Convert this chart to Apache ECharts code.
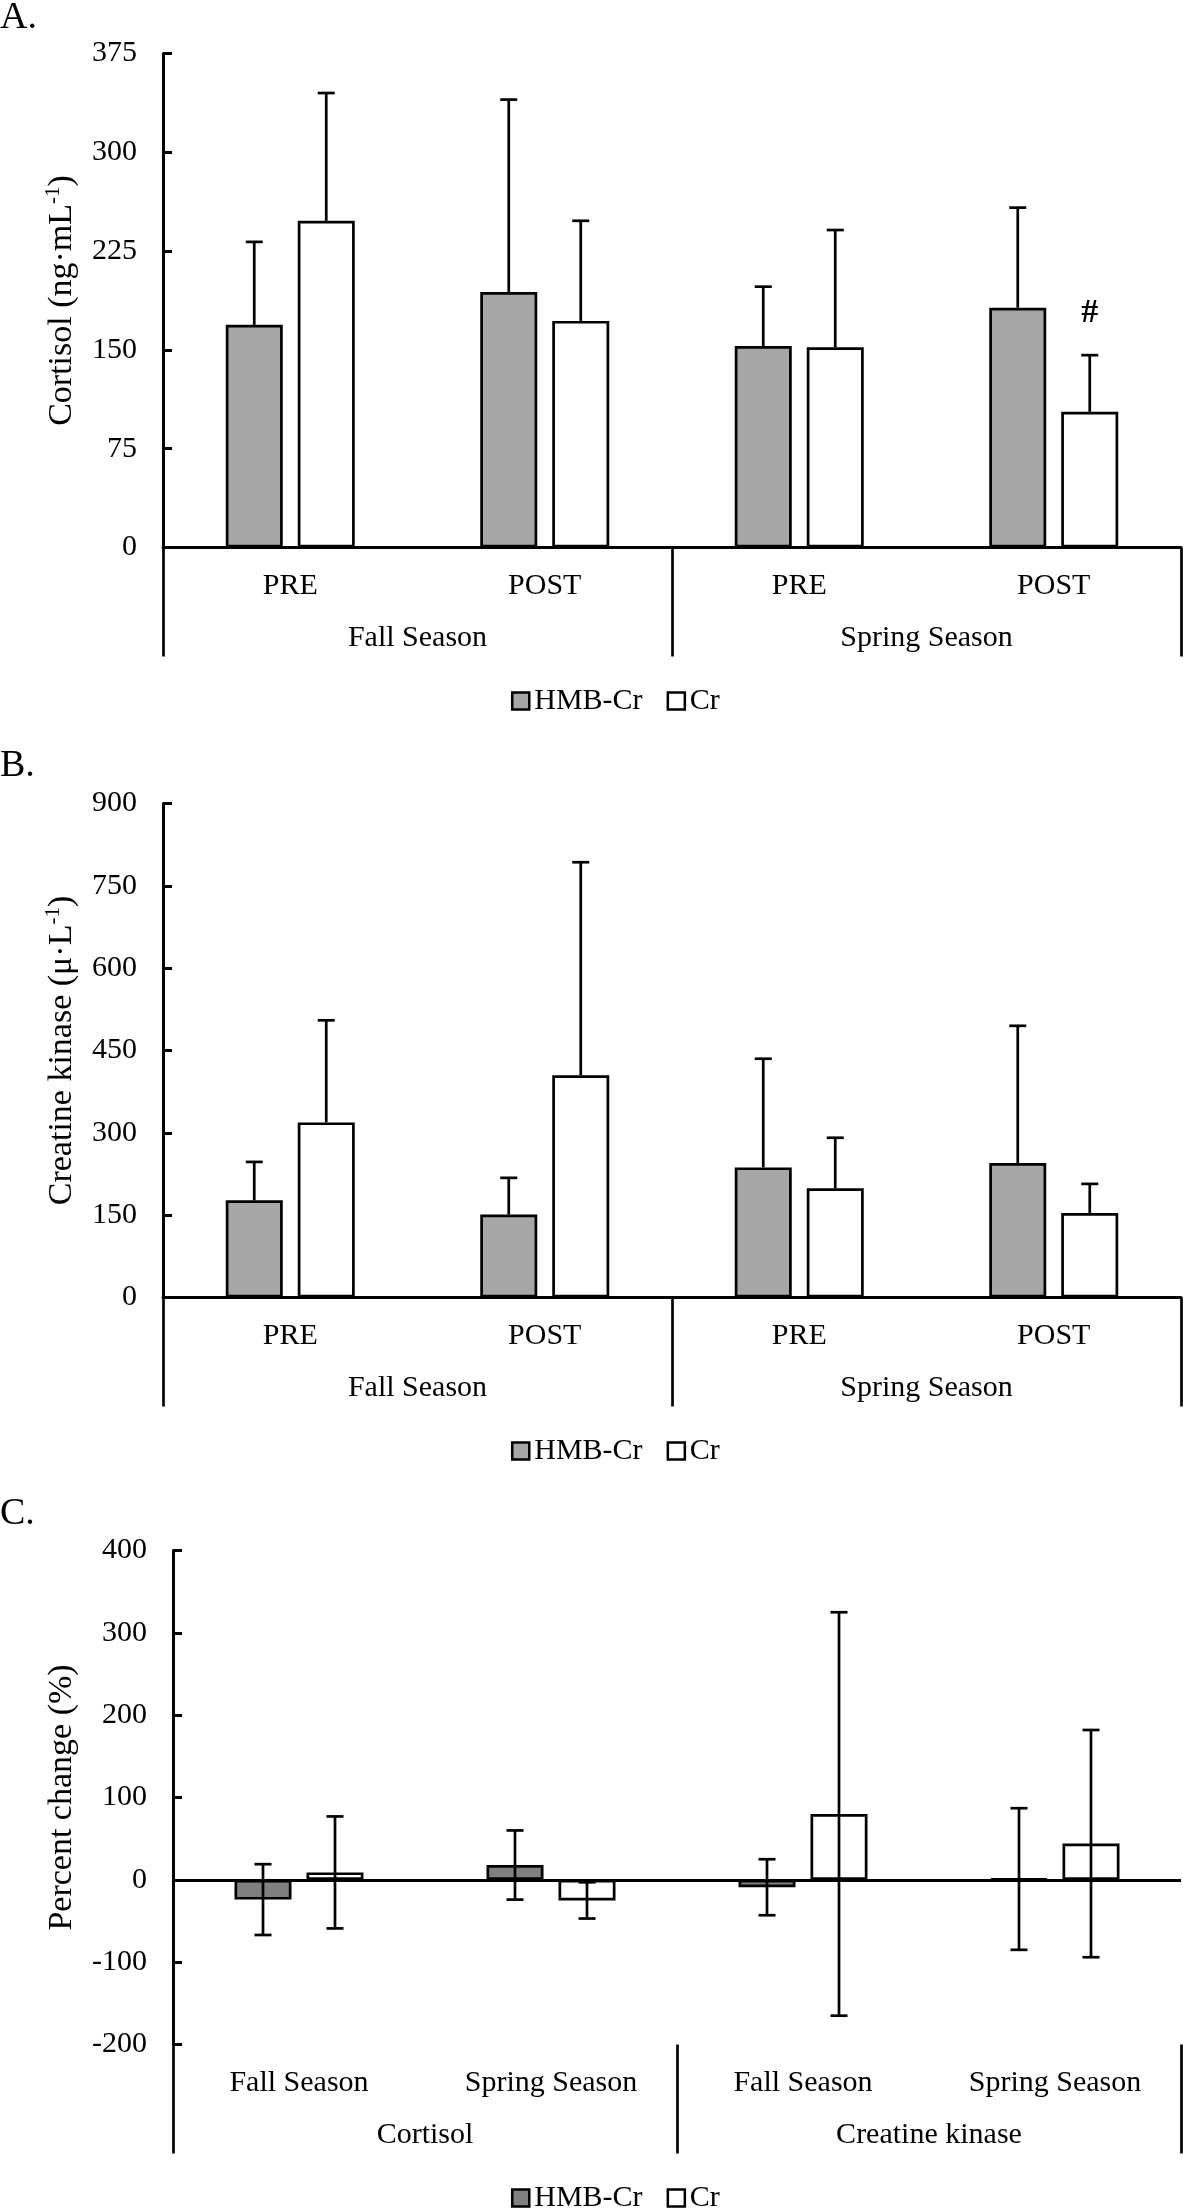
<!DOCTYPE html>
<html>
<head>
<meta charset="utf-8">
<script src="https://cdn.jsdelivr.net/npm/echarts@6/dist/echarts.min.js"></script>
<style>
html,body{margin:0;padding:0;background:#fff;}
.p{position:absolute;left:0;width:1183px;}
</style>
</head>
<body>
<div id="pa" class="p" style="top:0px;height:750px"></div>
<div id="pb" class="p" style="top:750px;height:747px"></div>
<div id="pc" class="p" style="top:1497px;height:711px"></div>
<script>
// ---------- DATA ----------
const timeCats = ['PRE', 'POST', 'PRE', 'POST'];
const seasonCats = ['Fall Season', 'Spring Season'];
const changeCats = ['Fall Season', 'Spring Season', 'Fall Season', 'Spring Season'];
const markerCats = ['Cortisol', 'Creatine kinase'];
const seriesNames = ['HMB-Cr', 'Cr'];

const cortisolTicks = [0, 75, 150, 225, 300, 375];
const cortisolHMB = [169, 194, 153, 182];
const cortisolHMBsd = [63, 146, 45, 76];
const cortisolCr = [248, 172, 152, 103];
const cortisolCrsd = [97, 76, 89, 43];
const cortisolCrMarks = ['', '', '', '#'];

const ckTicks = [0, 150, 300, 450, 600, 750, 900];
const ckHMB = [177, 151, 237, 245];
const ckHMBsd = [70, 67, 198, 250];
const ckCr = [319, 405, 199, 154];
const ckCrsd = [186, 388, 92, 53];

const pctTicks = [-200, -100, 0, 100, 200, 300, 400];
const pctHMB = [-24, 18, -9, 1];
const pctHMBsd = [43, 42, 34, 86];
const pctCr = [9, -25, 80, 44];
const pctCrsd = [68, 22, 245, 138];

// ---------- STYLE ----------
const FONT = '"Liberation Serif", "Times New Roman", serif';
const BAR_W = 57;
const BAR_GAP_PX = 15;
const OFFSET = (BAR_W + BAR_GAP_PX) / 2;
const txt = { color: '#000', fontFamily: FONT, fontSize: 30 };

function errRenderer(offset, both) {
  return function (params, api) {
    const cat = api.value(0), m = api.value(1), s = api.value(2);
    const c = api.coord([cat, m]);
    const top = api.coord([cat, m + s]);
    const bot = both ? api.coord([cat, m - s]) : c;
    const x = c[0] + offset;
    const hw = 8.5;
    const style = { stroke: '#000', lineWidth: 2.7 };
    const children = [
      { type: 'line', shape: { x1: x, y1: top[1], x2: x, y2: bot[1] }, style: style },
      { type: 'line', shape: { x1: x - hw, y1: top[1], x2: x + hw, y2: top[1] }, style: style }
    ];
    if (both) children.push({ type: 'line', shape: { x1: x - hw, y1: bot[1], x2: x + hw, y2: bot[1] }, style: style });
    return { type: 'group', children: children };
  };
}

function buildOption(p) {
  const hmbItems = p.hmb.slice();
  const crItems = p.cr.map(function (v, i) {
    const mk = p.crMarks ? p.crMarks[i] : '';
    if (!mk) return v;
    return {
      value: v,
      label: { show: true, formatter: mk, position: 'top', distance: 82,
        color: '#000', fontFamily: FONT, fontSize: 34, fontWeight: 'bold' }
    };
  });
  const series = [
    {
      name: seriesNames[0], type: 'bar', data: hmbItems, barWidth: BAR_W,
      barGap: (BAR_GAP_PX / BAR_W * 100).toFixed(1) + '%',
      itemStyle: { color: p.hmbColor, borderColor: '#000', borderWidth: 2.7 },
      z: 2
    },
    {
      name: seriesNames[1], type: 'bar', data: crItems, barWidth: BAR_W,
      itemStyle: { color: '#ffffff', borderColor: '#000', borderWidth: 2.7 },
      z: 2
    },
    {
      name: 'errHMB', type: 'custom', renderItem: errRenderer(-OFFSET, p.both),
      data: p.hmb.map(function (v, i) { return [i, v, p.hmbSd[i]]; }),
      encode: { x: 0, y: 1 }, clip: false, z: 5
    },
    {
      name: 'errCr', type: 'custom', renderItem: errRenderer(OFFSET, p.both),
      data: p.cr.map(function (v, i) { return [i, v, p.crSd[i]]; }),
      encode: { x: 0, y: 1 }, clip: false, z: 5
    }
  ];
  if (p.zeroLine) {
    series[0].markLine = {
      silent: true, symbol: ['none', 'none'], label: { show: false },
      lineStyle: { color: '#000', width: 3, type: 'solid' },
      data: [{ yAxis: 0 }], animation: false
    };
  }
  const ticks = p.ticks;
  return {
    animation: false,
    backgroundColor: '#fff',
    title: {
      text: p.letter, left: 0, top: p.titleTop, padding: 0,
      textStyle: { fontSize: 38, fontWeight: 'normal', fontFamily: FONT, color: '#000' }
    },
    legend: {
      data: seriesNames, left: 511, top: 686, padding: 0, itemWidth: 17, itemHeight: 17, itemGap: 24,
      icon: 'rect', selectedMode: false, textStyle: txt,
      itemStyle: { borderColor: '#000', borderWidth: 2.5 }
    },
    grid: { left: p.left, right: 2, top: 53.5, height: 494, containLabel: false },
    xAxis: [
      {
        type: 'category', data: p.cats, position: 'bottom',
        axisLine: { show: !p.zeroLine, onZero: false, lineStyle: { color: '#000', width: 3 } },
        axisTick: { show: false },
        axisLabel: Object.assign({}, txt, { margin: 24, interval: 0 })
      },
      {
        type: 'category', data: p.groups, position: 'bottom',
        axisLine: { show: false, onZero: false },
        axisTick: { show: true, length: 109, interval: 0, lineStyle: { color: '#000', width: 2.7 } },
        axisLabel: Object.assign({}, txt, { margin: 76, interval: 0 })
      }
    ],
    yAxis: {
      type: 'value', min: ticks[0], max: ticks[ticks.length - 1], interval: ticks[1] - ticks[0],
      axisLine: { show: true, lineStyle: { color: '#000', width: 3 } },
      axisTick: { show: true, inside: true, length: 9, lineStyle: { color: '#000', width: 3 } },
      splitLine: { show: false },
      axisLabel: Object.assign({}, txt, { margin: 26 }),
      name: p.yName, nameLocation: 'middle', nameRotate: 90, nameGap: p.nameGap,
      nameTextStyle: {
        color: '#000', fontFamily: FONT, fontSize: 34, lineHeight: 38,
        rich: { s: { fontSize: 21, lineHeight: 21, verticalAlign: 'top', fontFamily: FONT, color: '#000' } }
      }
    },
    series: series
  };
}

const panels = [
  { el: 'pa', letter: 'A.', titleTop: -1, left: 163, nameGap: 77, yName: 'Cortisol (ng·mL{s|-1})',
    ticks: cortisolTicks, cats: timeCats, groups: seasonCats, hmbColor: '#a6a6a6',
    hmb: cortisolHMB, hmbSd: cortisolHMBsd, cr: cortisolCr, crSd: cortisolCrsd, crMarks: cortisolCrMarks,
    both: false, zeroLine: false },
  { el: 'pb', letter: 'B.', titleTop: -3, left: 163, nameGap: 77, yName: 'Creatine kinase (μ·L{s|-1})',
    ticks: ckTicks, cats: timeCats, groups: seasonCats, hmbColor: '#a6a6a6',
    hmb: ckHMB, hmbSd: ckHMBsd, cr: ckCr, crSd: ckCrsd, crMarks: null,
    both: false, zeroLine: false },
  { el: 'pc', letter: 'C.', titleTop: -2, left: 173, nameGap: 92, yName: 'Percent change (%)',
    ticks: pctTicks, cats: changeCats, groups: markerCats, hmbColor: '#808080',
    hmb: pctHMB, hmbSd: pctHMBsd, cr: pctCr, crSd: pctCrsd, crMarks: null,
    both: true, zeroLine: true }
];

panels.forEach(function (p) {
  const chart = echarts.init(document.getElementById(p.el), null, { renderer: 'canvas' });
  chart.setOption(buildOption(p));
});
</script>
</body>
</html>
